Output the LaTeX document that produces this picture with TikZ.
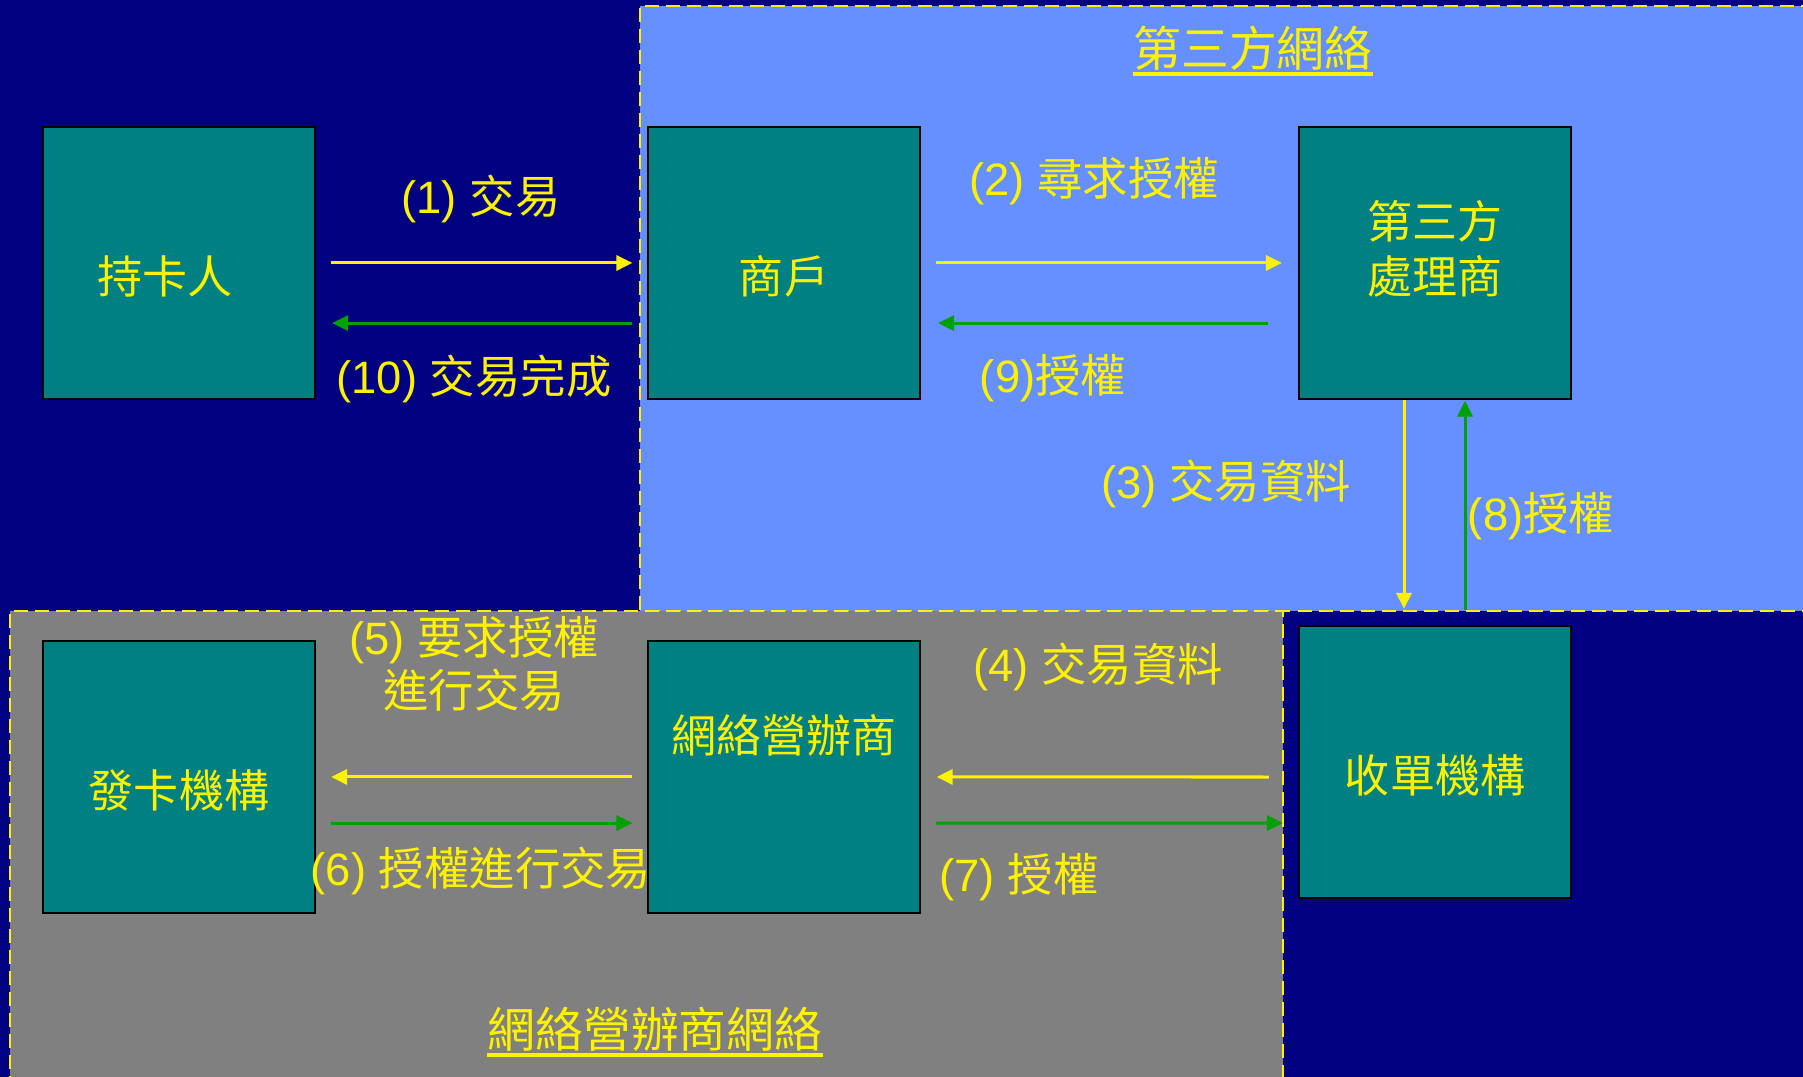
\documentclass[tikz,border=0pt]{standalone}
\usepackage{fontspec}
\setmainfont{Noto Sans CJK TC}
\newfontfamily\lat{Liberation Sans}
\usetikzlibrary{arrows.meta}
\definecolor{navybg}{RGB}{0,0,128}
\definecolor{thirdblue}{RGB}{102,144,255}
\definecolor{opgray}{RGB}{128,128,128}
\definecolor{boxteal}{RGB}{0,128,128}
\definecolor{okgreen}{RGB}{0,160,0}

\begin{document}
\begin{tikzpicture}%
        [x={(0.01cm,0cm)},
        y={(0cm,-0.01cm)},
        panel/.style={draw=yellow, line width=0.02cm, dash pattern=on 0.14cm off 0.07cm},
        box/.style={draw=black, line width=0.02cm, fill=boxteal, text=yellow, minimum width=2.72cm, minimum height=2.71cm, inner sep=0pt, align=center, font=\fontsize{12.8pt}{15.4pt}\selectfont},
        low/.style={text height=0.64cm},
        fwd/.style={yellow, line width=0.03cm, -{Triangle[length=0.16cm,width=0.15cm]}},
        back/.style={okgreen, line width=0.03cm, -{Triangle[length=0.16cm,width=0.15cm]}},
        lbl/.style={text=yellow, inner sep=0pt, align=center, font=\fontsize{12.9pt}{15.2pt}\selectfont},
        heading/.style={text=yellow, inner sep=0pt, font=\fontsize{13.6pt}{16pt}\selectfont}]
    %
    %% Background and the two networks
    \useasboundingbox (0,0) rectangle (1803,1077);
    \fill[navybg] (0,0) rectangle (1803,1077);
    \fill[thirdblue] (640,6) rectangle (1815,611);
    \draw[panel] (1815,6) -- (640,6) -- (640,611) -- (1815,611);
    \fill[opgray] (10,611) rectangle (1283,1090);
    \draw[panel] (10,1090) -- (10,611) -- (1283,611) -- (1283,1090);
    %%
    %% Titles
    \node[heading] (thirdtitle) at (1253,48) {第三方網絡};
    \draw[yellow, line width=0.04cm] ([yshift=-0.03cm]thirdtitle.south west) -- ([yshift=-0.03cm]thirdtitle.south east);
    \node[heading] (optitle) at (655,1029) {網絡營辦商網絡};
    \draw[yellow, line width=0.04cm] ([yshift=-0.03cm]optitle.south west) -- ([yshift=-0.03cm]optitle.south east);
    %%
    %% Parties
    \node[box,low] (holder) at (179,263) {持卡人\hspace{0.28cm}};
    \node[box,low] (merchant) at (784,263) {商戶};
    \node[box,low] (processor) at (1435,263) {第三方\\處理商};
    \node[box,low] (issuer) at (179,777) {發卡機構};
    \node[box,text height=0.38cm,text depth=0.87cm] (operator) at (784,777) {網絡營辦商};
    \node[box,low] (acquirer) at (1435,762) {收單機構};
    %%
    %% Messages
    \draw[fwd, shorten <=0.15cm, shorten >=0.145cm] (holder.east) -- (merchant.west);
    \draw[fwd, shorten <=0.15cm, shorten >=0.16cm] (merchant.east) -- (processor.west);
    \draw[fwd, shorten >=0.165cm] ([xshift=-0.31cm]processor.south) -- ([xshift=-0.31cm]acquirer.north);
    \draw[fwd, shorten <=0.29cm, shorten >=0.155cm] ([yshift=-0.15cm]acquirer.west) -- (operator.east);
    \draw[fwd, shorten <=0.145cm, shorten >=0.15cm] (operator.west) -- (issuer.east);
    \draw[back, shorten <=0.15cm, shorten >=0.145cm] ([yshift=-0.46cm]issuer.east) -- ([yshift=-0.46cm]operator.west);
    \draw[back, shorten <=0.15cm, shorten >=0.15cm] ([yshift=-0.46cm]operator.east) -- ([yshift=-0.61cm]acquirer.west);
    \draw[back, shorten <=0.155cm, shorten >=0.01cm] ([xshift=0.30cm]acquirer.north) -- ([xshift=0.30cm]processor.south);
    \draw[back, shorten <=0.30cm, shorten >=0.17cm] ([yshift=-0.6cm]processor.west) -- ([yshift=-0.6cm]merchant.east);
    \draw[back, shorten <=0.145cm, shorten >=0.16cm] ([yshift=-0.6cm]merchant.west) -- ([yshift=-0.6cm]holder.east);
    %%
    %% Message labels
    \node[lbl] (l1) at (481,199) {{\lat (1) }交易};
    \node[lbl] (l2) at (1094,181) {{\lat (2) }尋求授權};
    \node[lbl] (l3) at (1226,484) {{\lat (3) }交易資料};
    \node[lbl] (l4) at (1098,667) {{\lat (4) }交易資料};
    \node[lbl] (l5) at (474,664) {{\lat (5) }要求授權\\進行交易};
    \node[lbl] (l6) at (481,871) {{\lat (6) }授權進行交易};
    \node[lbl] (l7) at (1019,877) {{\lat (7) }授權};
    \node[lbl] (l8) at (1541,516) {{\lat (8)}授權};
    \node[lbl] (l9) at (1053,378) {{\lat (9)}授權};
    \node[lbl] (l10) at (474,379) {{\lat (10) }交易完成};
    %%
\end{tikzpicture}
\end{document}
